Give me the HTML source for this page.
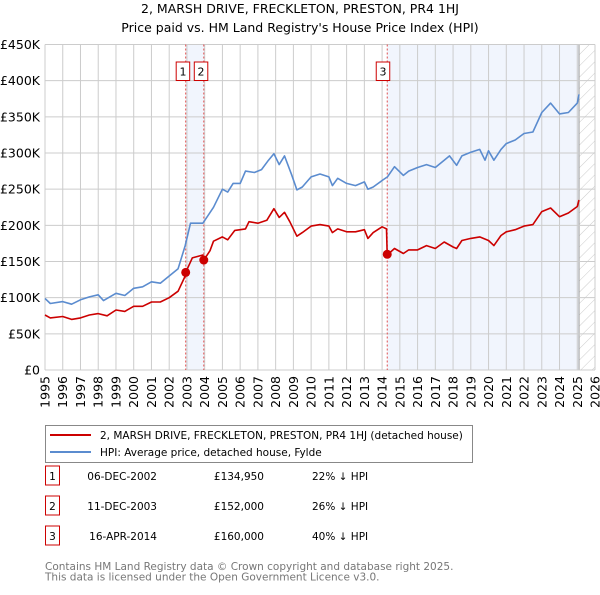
<!DOCTYPE html>
<html><head><meta charset="utf-8"><style>
body{margin:0;background:#fff;font-family:"Liberation Sans","DejaVu Sans",sans-serif;}
svg text{font-family:"DejaVu Sans","Liberation Sans",sans-serif;}
</style></head><body>
<svg width="600" height="590" viewBox="0 0 600 590" xmlns="http://www.w3.org/2000/svg" id="chart">
<defs><pattern id="hatch" patternUnits="userSpaceOnUse" width="8" height="8" patternTransform="rotate(45)"><line x1="0" y1="0" x2="0" y2="8" stroke="#ccc" stroke-width="1"/></pattern></defs>
<text x="300" y="13" text-anchor="middle" font-size="12.5" fill="#000">2, MARSH DRIVE, FRECKLETON, PRESTON, PR4 1HJ</text>
<text x="300" y="32" text-anchor="middle" font-size="12.5" fill="#000">Price paid vs. HM Land Registry's House Price Index (HPI)</text>
<g id="plot"></g>
<g>
<rect x="45.5" y="425.5" width="427" height="37" fill="#fff" stroke="#888"/>
<line x1="50" y1="435" x2="91" y2="435" stroke="#cc0000" stroke-width="2"/>
<text x="100" y="439" font-size="10.5">2, MARSH DRIVE, FRECKLETON, PRESTON, PR4 1HJ (detached house)</text>
<line x1="50" y1="452" x2="91" y2="452" stroke="#5b8ccf" stroke-width="2"/>
<text x="100" y="456" font-size="10.5">HPI: Average price, detached house, Fylde</text>
</g>
<g id="table"></g>
<text x="45" y="570" font-size="10.5" fill="#777">Contains HM Land Registry data © Crown copyright and database right 2025.</text>
<text x="45" y="580.5" font-size="10.5" fill="#777">This data is licensed under the Open Government Licence v3.0.</text>
</svg>
<script>
const hpiYears=[1995,1995.3,1996,1996.5,1997,1997.5,1998,1998.3,1999,1999.5,2000,2000.5,2001,2001.5,2002,2002.5,2002.9,2003.2,2003.9,2004.5,2005,2005.3,2005.6,2006,2006.3,2006.8,2007.2,2007.6,2007.9,2008.2,2008.5,2008.9,2009.2,2009.5,2010,2010.5,2011,2011.2,2011.5,2012,2012.5,2013,2013.2,2013.5,2014,2014.3,2014.7,2015.2,2015.5,2016,2016.5,2017,2017.5,2017.8,2018.2,2018.5,2019,2019.5,2019.8,2020,2020.3,2020.7,2021,2021.5,2022,2022.5,2023,2023.5,2024,2024.5,2025,2025.1];
const hpiValues=[99,92,94.5,91,97,101,104,96,106,103,113,115,122,120,130,140,172,203,203,225,250,246,258,258,275,273,277,290,299,284,296,270,249,253,267,271,267,255,265,258,255,260,250,253,262,267,281,269,275,280,284,280,290,296,283,296,301,305,290,303,290,305,313,318,327,329,356,369,354,356,369,381];
const ppYears=[1995,1995.3,1996,1996.5,1997,1997.5,1998,1998.5,1999,1999.5,2000,2000.5,2001,2001.5,2002,2002.5,2002.9,2002.93,2003.3,2003.9,2003.95,2004.3,2004.5,2005,2005.3,2005.7,2006,2006.3,2006.5,2007,2007.5,2007.9,2008.2,2008.5,2008.8,2009.2,2009.5,2010,2010.5,2011,2011.2,2011.5,2012,2012.5,2013,2013.2,2013.5,2014,2014.25,2014.29,2014.7,2015.2,2015.5,2016,2016.5,2017,2017.5,2018,2018.2,2018.5,2019,2019.5,2020,2020.3,2020.7,2021,2021.5,2022,2022.5,2023,2023.5,2024,2024.5,2025,2025.1];
const ppValues=[76,72,74,70,72,76,78,75,83,81,88,88,94,94,100,109,130,135,155,159,152,165,178,184,180,193,194,195,205,203,207,223,211,218,205,185,190,199,201,199,190,195,191,191,194,182,190,198,195,159,168,161,166,166,172,168,177,170,168,179,182,184,179,172,186,191,194,199,201,219,224,212,217,226,235];
const saleYears=[2002.93,2003.95,2014.29];
const saleValues=[134.95,152,160];
const saleLabels=["1","2","3"];
const saleDates=["06-DEC-2002","11-DEC-2003","16-APR-2014"];
const salePrices=["£134,950","£152,000","£160,000"];
const saleDiffs=["22% ↓ HPI","26% ↓ HPI","40% ↓ HPI"];
const yTicks=[0,50,100,150,200,250,300,350,400,450];
const yTickLabels=["£0","£50K","£100K","£150K","£200K","£250K","£300K","£350K","£400K","£450K"];
const xTicks=[];for(let y=1995;y<=2026;y++)xTicks.push(y);

const NS="http://www.w3.org/2000/svg";
const L=45,R=595,T=44.5,B=370;
const x0=1995,x1=2026,yMax=450;
const sx=v=>L+(v-x0)/(x1-x0)*(R-L);
const sy=v=>B-v/yMax*(B-T);
const plot=document.getElementById('plot');
function mk(tag,attrs,parent){const e=document.createElementNS(NS,tag);for(const k in attrs)e.setAttribute(k,attrs[k]);(parent||plot).appendChild(e);return e;}

let r=mk('rect',{x:sx(saleYears[0]),y:T,width:sx(saleYears[1])-sx(saleYears[0]),height:B-T,fill:'#eef3fc',opacity:0.8});


r=mk('rect',{x:sx(saleYears[2]),y:T,width:sx(2025.1)-sx(saleYears[2]),height:B-T,fill:'#eef3fc',opacity:0.8});


r=mk('rect',{x:sx(2025.1),y:T,width:R-sx(2025.1),height:B-T,fill:'url(#hatch)'});


mk('line',{x1:sx(2025.1),y1:T,x2:sx(2025.1),y2:B,stroke:'#999','stroke-width':1});

xTicks.forEach(t=>{
 const g=mk('line',{x1:sx(t),y1:T,x2:sx(t),y2:B,stroke:'#ccc','stroke-width':1});
 
 
 const tx=mk('text',{x:0,y:0,transform:`translate(${sx(t)+4.5},376) rotate(-90)`,'text-anchor':'end','font-size':'12.5',fill:'#000'});
 tx.textContent=t;
 
 
});
yTicks.forEach((t,i)=>{
 const g=mk('line',{x1:L,y1:sy(t),x2:R,y2:sy(t),stroke:'#ccc','stroke-width':1});
 
 
 const tx=mk('text',{x:40,y:sy(t)+4.5,'text-anchor':'end','font-size':'12.5',fill:'#000'});
 tx.textContent=yTickLabels[i];
 
 
});

saleYears.forEach((s,i)=>{
 const l=mk('line',{x1:sx(s),y1:T,x2:sx(s),y2:B,stroke:'#e05050','stroke-width':1,'stroke-dasharray':'2,2'});
 
 
});

function path(xs,vs,color,name){
 const d=xs.map((x,i)=>(i?'L':'M')+sx(x).toFixed(1)+','+sy(vs[i]).toFixed(1)).join('');
 const p=mk('path',{d:d,fill:'none',stroke:color,'stroke-width':1.6,'stroke-linejoin':'round'});
 
 
}
path(hpiYears,hpiValues,'#5b8ccf','hpi-line');
path(ppYears,ppValues,'#cc0000','price-paid-line');

const boxOffsets=[-9.5,-9.5,-11];
saleYears.forEach((s,i)=>{
 const c=mk('circle',{cx:sx(s),cy:sy(saleValues[i]),r:4.5,fill:'#cc0000'});
 
 
 const bx=sx(s)+boxOffsets[i];
 const b=mk('rect',{x:bx,y:62,width:13.5,height:18.5,fill:'#fff',stroke:'#cc0000','stroke-width':1});
 
 
 const t=mk('text',{x:bx+6.75,y:75.5,'text-anchor':'middle','font-size':'11'});
 t.textContent=saleLabels[i];
 
 
});

const tb=document.getElementById('table');
saleLabels.forEach((lab,i)=>{
 const y=483+i*30;
 const b=mk('rect',{x:45.5,y:y-17,width:14,height:19,fill:'#fff',stroke:'#cc0000'},tb);
 
 
 const vals=[[lab,52.5,'middle'],[saleDates[i],157,'end'],[salePrices[i],264,'end'],[saleDiffs[i],312,'start']];
 vals.forEach(([v,x,a],j)=>{
  const t=mk('text',{x:x,y:y-3,'text-anchor':a,'font-size':j==0?'10.5':'10.5'},tb);
  t.textContent=v;
  
  
 });
});
</script>
</body></html>
